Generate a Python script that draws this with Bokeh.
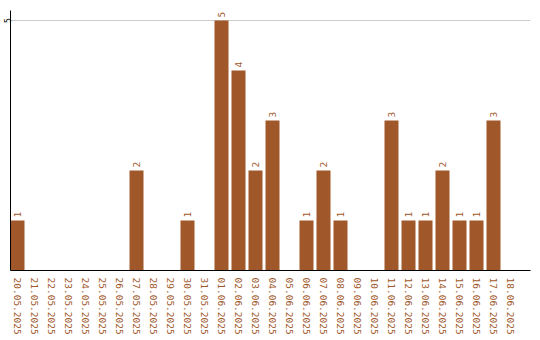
from bokeh.plotting import figure
from bokeh.models import ColumnDataSource, FixedTicker, Range1d
from bokeh.embed import file_html
from bokeh.resources import INLINE
from bokeh.core.properties import value

dates = ["20.05.2025", "21.05.2025", "22.05.2025", "23.05.2025", "24.05.2025",
         "25.05.2025", "26.05.2025", "27.05.2025", "28.05.2025", "29.05.2025",
         "30.05.2025", "31.05.2025", "01.06.2025", "02.06.2025", "03.06.2025",
         "04.06.2025", "05.06.2025", "06.06.2025", "07.06.2025", "08.06.2025",
         "09.06.2025", "10.06.2025", "11.06.2025", "12.06.2025", "13.06.2025",
         "14.06.2025", "15.06.2025", "16.06.2025", "17.06.2025", "18.06.2025"]
counts = [1, 0, 0, 0, 0, 0, 0, 2, 0, 0,
          1, 0, 5, 4, 2, 3, 0, 1, 2, 1,
          0, 0, 3, 1, 1, 2, 1, 1, 3, 0]
y_ticks = [5]

BROWN = "#A0582A"
FONT = "DejaVu Sans Mono"

xs = [i + 0.5 for i in range(len(dates))]
src = ColumnDataSource(dict(x=xs, top=counts))
nz = [i for i, c in enumerate(counts) if c > 0]
lsrc = ColumnDataSource(dict(x=[xs[i] for i in nz], y=[counts[i] for i in nz],
                             t=[str(counts[i]) for i in nz]))

slot = 17.0
start = 0.5 - 7.0 / slot
p = figure(width=540, height=340, output_backend="svg", toolbar_location=None,
           x_range=Range1d(start, start + 520.0 / slot), y_range=Range1d(0, 5.2),
           min_border_left=0, min_border_right=10, min_border_top=10, min_border_bottom=70)
p.outline_line_color = None
p.background_fill_color = "white"
p.border_fill_color = "white"

p.vbar(x="x", top="top", width=14.0 / slot, source=src, fill_color=BROWN,
       line_color=None)
p.text(x="x", y="y", text="t", source=lsrc, angle=1.5708, text_align="left",
       text_baseline="middle", y_offset=-3, text_color=BROWN,
       text_font=value(FONT), text_font_size="9.5px")

p.xgrid.visible = False
p.ygrid.ticker = FixedTicker(ticks=y_ticks)
p.ygrid.grid_line_color = "#cccccc"

xa = p.xaxis[0]
xa.ticker = FixedTicker(ticks=xs)
xa.major_label_overrides = {x: d for x, d in zip(xs, dates)}
xa.major_label_orientation = "vertical"
xa.major_label_text_font = FONT
xa.major_label_text_font_size = "9.5px"
xa.major_label_text_color = BROWN
xa.major_tick_line_color = None
xa.minor_tick_line_color = None
xa.axis_line_color = "black"
xa.major_label_standoff = 1

ya = p.yaxis[0]
ya.ticker = FixedTicker(ticks=y_ticks)
ya.major_label_orientation = "vertical"
ya.major_label_text_font = FONT
ya.major_label_text_font_size = "8px"
ya.major_label_text_color = "black"
ya.major_tick_line_color = None
ya.minor_tick_line_color = None
ya.axis_line_color = "black"
ya.major_label_standoff = -6

open("out.html", "w").write(file_html(p, INLINE))
